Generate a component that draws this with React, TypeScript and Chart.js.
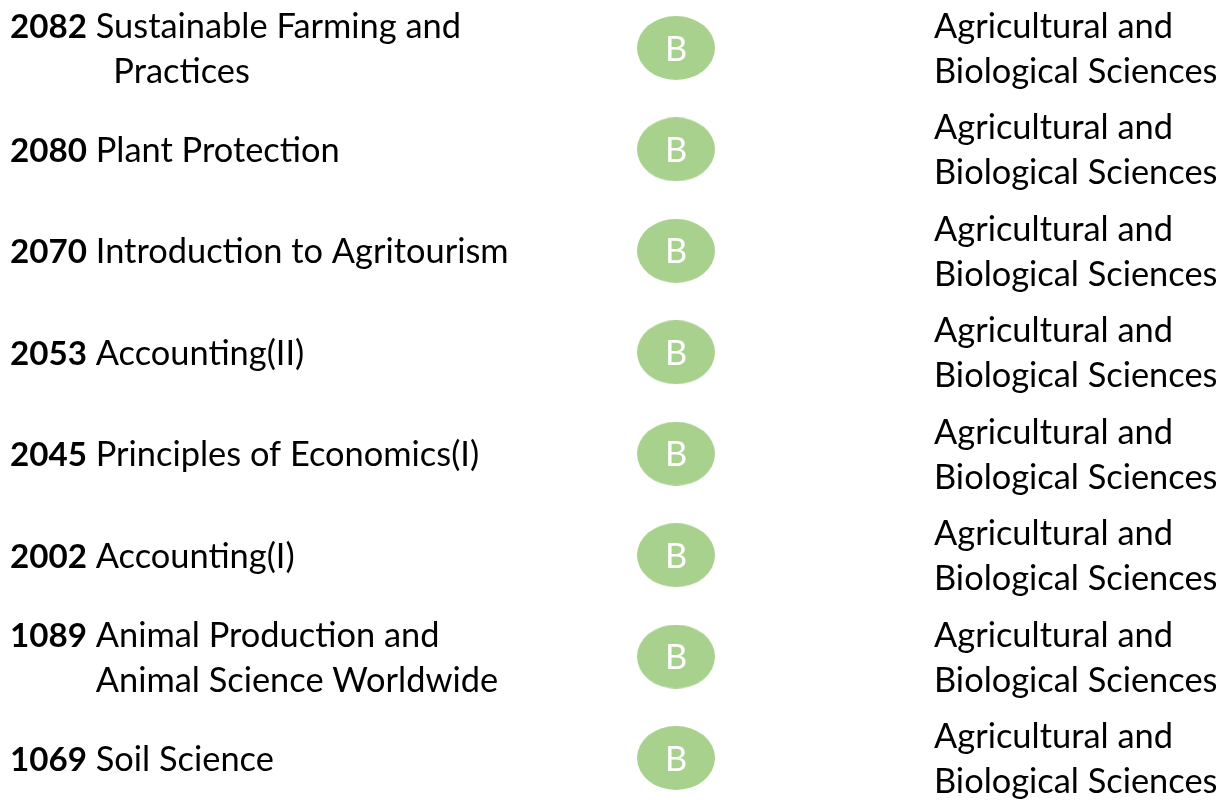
import React, { useEffect, useRef } from 'react';
import { Chart, registerables } from 'chart.js';

Chart.register(...registerables);

const courseCodes = ['2082', '2080', '2070', '2053', '2045', '2002', '1089', '1069'];
const courseNames = [
  'Sustainable Farming and\n  Practices',
  'Plant Protection',
  'Introduction to Agritourism',
  'Accounting(II)',
  'Principles of Economics(I)',
  'Accounting(I)',
  'Animal Production and\nAnimal Science Worldwide',
  'Soil Science',
];
const grades = ['B', 'B', 'B', 'B', 'B', 'B', 'B', 'B'];
const departments = [
  'Agricultural and\nBiological Sciences',
  'Agricultural and\nBiological Sciences',
  'Agricultural and\nBiological Sciences',
  'Agricultural and\nBiological Sciences',
  'Agricultural and\nBiological Sciences',
  'Agricultural and\nBiological Sciences',
  'Agricultural and\nBiological Sciences',
  'Agricultural and\nBiological Sciences',
];
const columns = ['Course', 'Grade', 'Department'];

const FONT = 'Lato, "Open Sans", "Liberation Sans", sans-serif';
const GREEN = '#A9D18E';
const LINE_H = 45;

function fitSize(ctx: CanvasRenderingContext2D, weight: string, sample: string, target: number): number {
  ctx.font = `${weight} 36px ${FONT}`;
  const w = ctx.measureText(sample).width;
  return (36 * target) / w;
}

const textPlugin = {
  id: 'rowText',
  afterDatasetsDraw(chart: any) {
    const ctx: CanvasRenderingContext2D = chart.ctx;
    const yScale = chart.scales.y;
    const meta = chart.getDatasetMeta(0);
    ctx.save();
    const size = fitSize(ctx, 'normal', 'Introduction to Agritourism', 413);
    const bsize = fitSize(ctx, 'bold', '2082', 77);
    const reg = `${size}px ${FONT}`;
    const bold = `bold ${bsize}px ${FONT}`;
    ctx.font = reg;
    const capH = ctx.measureText('H').actualBoundingBoxAscent;
    const spaceW = ctx.measureText(' ').width;
    ctx.textBaseline = 'alphabetic';
    ctx.textAlign = 'left';
    courseCodes.forEach((code, i) => {
      const y = yScale.getPixelForValue(i);
      const lines = courseNames[i].split('\n');
      ctx.fillStyle = '#000000';
      ctx.font = bold;
      const codeW = ctx.measureText(code).width;
      lines.forEach((ln, j) => {
        const cy = y + (j - (lines.length - 1) / 2) * LINE_H;
        const base = cy + capH / 2;
        if (j === 0) {
          ctx.font = bold;
          ctx.fillText(code, 10, base);
        }
        ctx.font = reg;
        ctx.fillText(ln, 10 + codeW + spaceW, base);
      });
      const dl = departments[i].split('\n');
      ctx.font = reg;
      dl.forEach((ln, j) => {
        const cy = y + (j - (dl.length - 1) / 2) * LINE_H;
        ctx.fillText(ln, 934, cy + capH / 2);
      });
      const pt = meta.data[i];
      if (pt) {
        ctx.fillStyle = '#FFFFFF';
        ctx.textAlign = 'center';
        ctx.fillText(grades[i], pt.x, pt.y + capH / 2);
        ctx.textAlign = 'left';
      }
    });
    ctx.restore();
  },
};

function makeEllipse(): HTMLCanvasElement {
  const c = document.createElement('canvas');
  c.width = 78;
  c.height = 64;
  const g = c.getContext('2d')!;
  g.fillStyle = GREEN;
  g.beginPath();
  g.ellipse(39, 32, 39, 32, 0, 0, Math.PI * 2);
  g.fill();
  return c;
}

export default function App() {
  const ref = useRef<HTMLCanvasElement | null>(null);
  useEffect(() => {
    document.body.style.margin = '0';
    if (!ref.current) return;
    const ellipse = makeEllipse();
    const chart = new Chart(ref.current, {
      type: 'scatter',
      data: {
        datasets: [
          {
            label: 'Grade',
            data: courseCodes.map((c, i) => ({ x: 'Grade', y: i })) as any,
            pointStyle: ellipse as any,
            pointRadius: 32,
            pointHoverRadius: 32,
            clip: false as any,
          },
        ],
      },
      options: {
        animation: false,
        responsive: true,
        maintainAspectRatio: false,
        layout: { autoPadding: false, padding: { top: 48, bottom: 42, left: 121, right: 0 } },
        plugins: { legend: { display: false }, tooltip: { enabled: false } },
        events: [],
        scales: {
          x: { type: 'category', labels: columns, offset: false, display: false },
          y: {
            type: 'linear',
            reverse: true,
            min: 0,
            max: courseCodes.length - 1,
            display: false,
          },
        },
      },
      plugins: [textPlugin],
    });
    return () => chart.destroy();
  }, []);
  return (
    <div style={{ width: 1231, height: 800, position: 'relative', background: '#fff' }}>
      <canvas ref={ref} />
    </div>
  );
}
